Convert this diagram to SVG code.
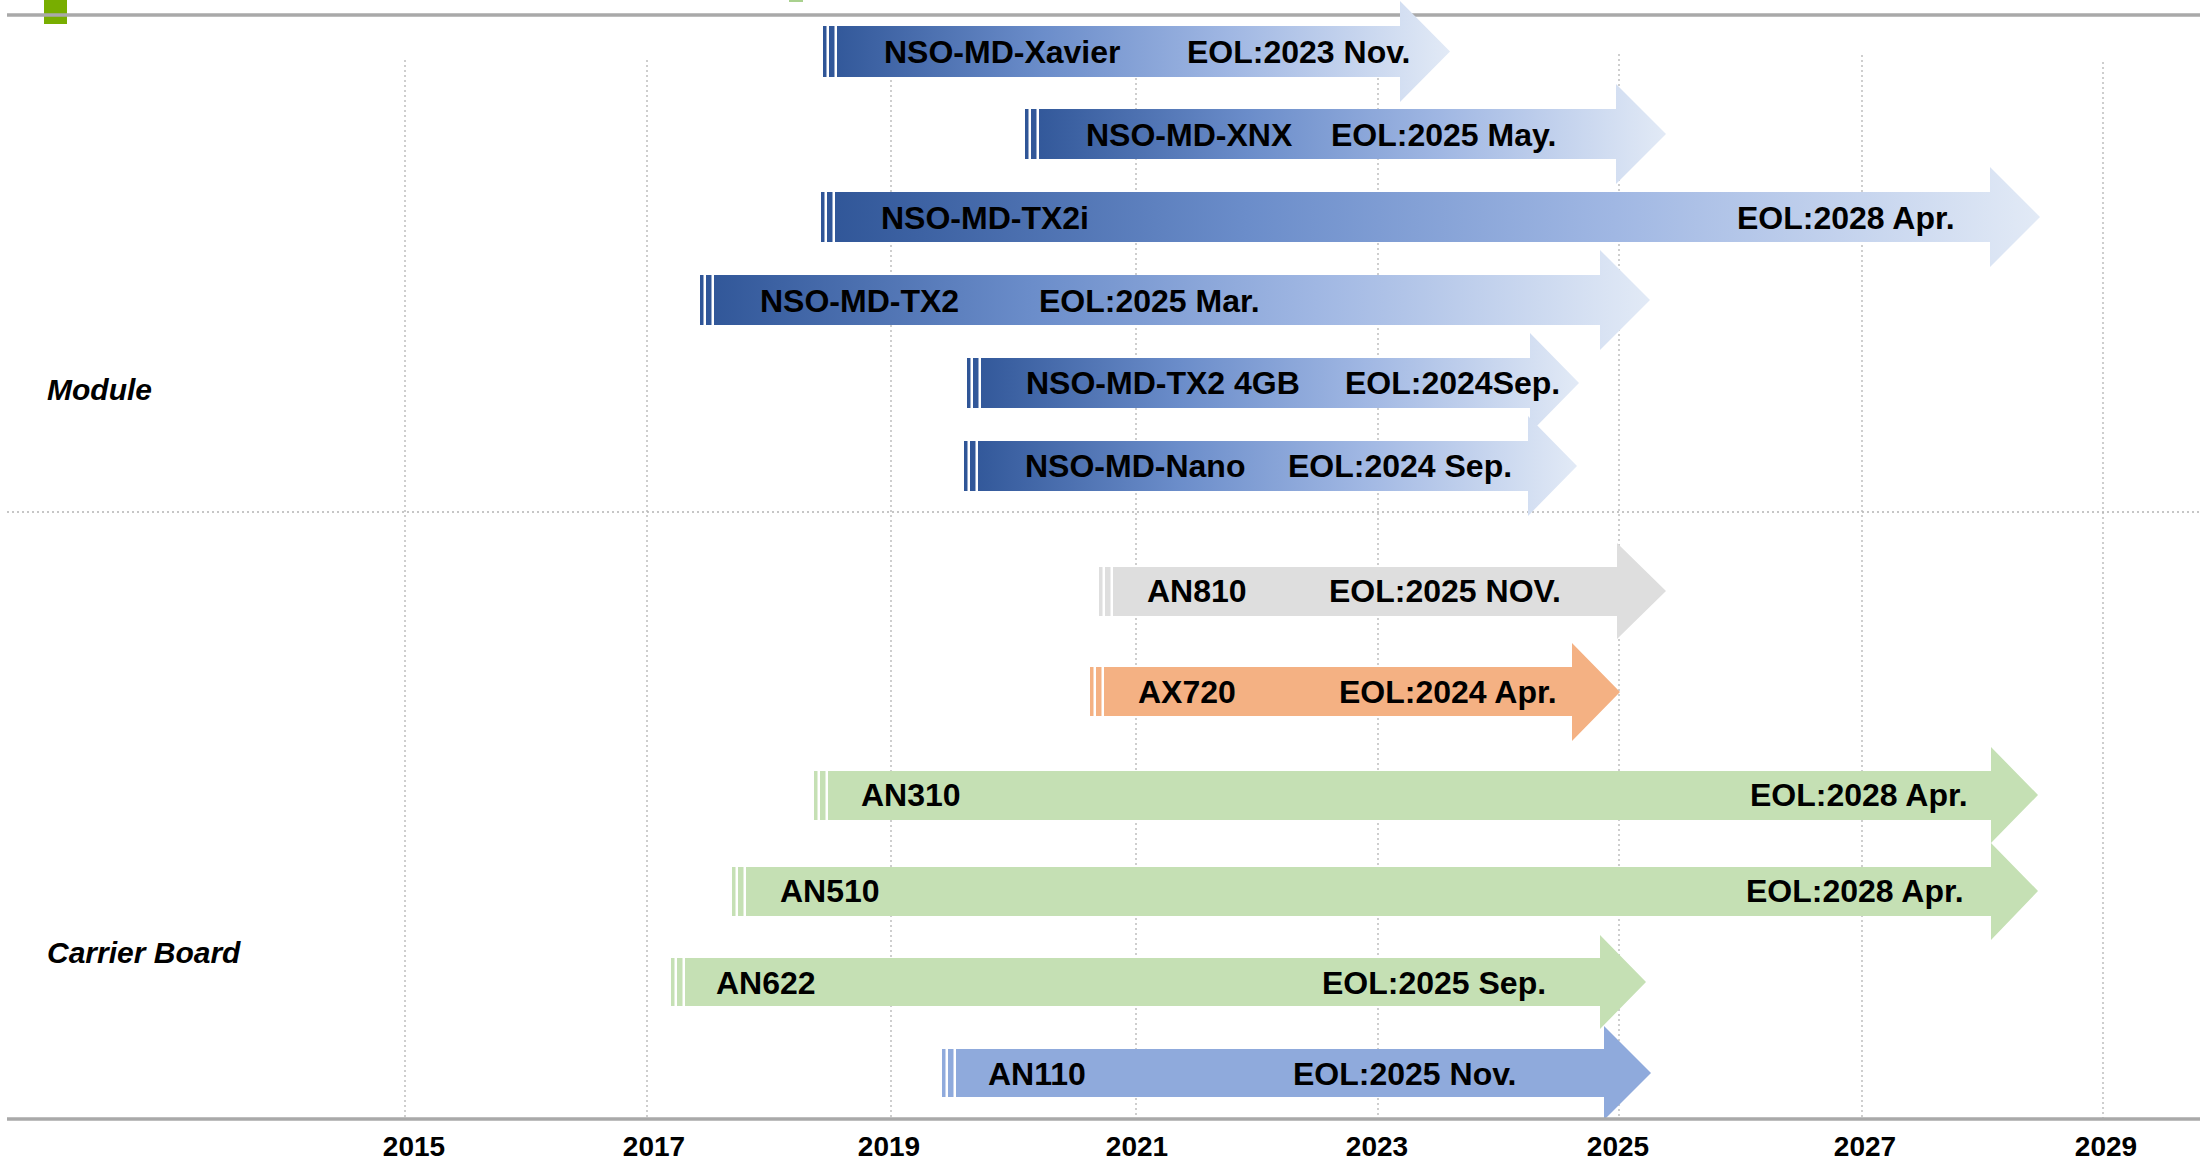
<svg xmlns="http://www.w3.org/2000/svg" width="2200" height="1162" viewBox="0 0 2200 1162">
<style>
.grid{stroke:#b4b4b4;stroke-width:1.3;stroke-dasharray:2 3;fill:none}
.axis{stroke:#a9a9a9;stroke-width:3.5;fill:none}
.lbl{font-family:"Liberation Sans",Arial,sans-serif;font-weight:bold;font-size:32px;fill:#000}
.yr{font-family:"Liberation Sans",Arial,sans-serif;font-weight:bold;font-size:28px;fill:#000;text-anchor:middle}
.sec{font-family:"Liberation Sans",Arial,sans-serif;font-weight:bold;font-style:italic;font-size:30px;fill:#000}
.blue{fill:url(#gb)}
.gray{fill:#dedede}
.orange{fill:#f4b183}
.green{fill:#c5e0b4}
.lblue{fill:#8faadc}
</style>
<defs>
<linearGradient id="gb" x1="0" y1="0" x2="1" y2="0">
<stop offset="0" stop-color="#2f5597"/>
<stop offset="0.35" stop-color="#6b8dca"/>
<stop offset="0.65" stop-color="#a0b7e3"/>
<stop offset="1" stop-color="#e2eaf6"/>
</linearGradient>
</defs>
<rect width="2200" height="1162" fill="#fff"/>
<rect x="44" y="0" width="23" height="24" fill="#78ae00"/>
<rect x="789" y="0" width="14" height="2" fill="#a9d18e"/>
<g id="connectors">
<line class="axis" x1="7" y1="15" x2="2200" y2="15"/>
<line class="grid" x1="405" y1="60" x2="405" y2="1119"/>
<line class="grid" x1="647" y1="60" x2="647" y2="1119"/>
<line class="grid" x1="891" y1="60" x2="891" y2="1119"/>
<line class="grid" x1="1136" y1="58" x2="1136" y2="1119"/>
<line class="grid" x1="1378" y1="58" x2="1378" y2="1119"/>
<line class="grid" x1="1619" y1="54" x2="1619" y2="1119"/>
<line class="grid" x1="1862" y1="55" x2="1862" y2="1119"/>
<line class="grid" x1="2103" y1="62" x2="2103" y2="1119"/>
<line class="grid" x1="7" y1="512" x2="2200" y2="512"/>
</g>
<g id="xavier"><path class="blue" d="M823 26h3.5v51h-3.5z M829 26h5.5v51h-5.5z M837 26H1400V1L1450 51.5L1400 102V77H837z"/>
<text class="lbl" x="884" y="63">NSO-MD-Xavier</text><text class="lbl" x="1187" y="63">EOL:2023 Nov.</text></g>
<g id="xnx"><path class="blue" d="M1025 109h3.5v50h-3.5z M1031 109h5.5v50h-5.5z M1039 109H1616V84L1666 134L1616 184V159H1039z"/>
<text class="lbl" x="1086" y="146">NSO-MD-XNX</text><text class="lbl" x="1331" y="146">EOL:2025 May.</text></g>
<g id="tx2i"><path class="blue" d="M821 192h3.5v50h-3.5z M827 192h5.5v50h-5.5z M835 192H1990V167L2040 217L1990 267V242H835z"/>
<text class="lbl" x="881" y="229">NSO-MD-TX2i</text><text class="lbl" x="1737" y="229">EOL:2028 Apr.</text></g>
<g id="tx2"><path class="blue" d="M700 275h3.5v50h-3.5z M706 275h5.5v50h-5.5z M714 275H1600V250L1650 300L1600 350V325H714z"/>
<text class="lbl" x="760" y="312">NSO-MD-TX2</text><text class="lbl" x="1039" y="312">EOL:2025 Mar.</text></g>
<g id="tx2-4gb"><path class="blue" d="M967 358h3.5v50h-3.5z M973 358h5.5v50h-5.5z M981 358H1530V333L1579 383L1530 433V408H981z"/>
<text class="lbl" x="1026" y="394">NSO-MD-TX2 4GB</text><text class="lbl" x="1345" y="394">EOL:2024Sep.</text></g>
<g id="nano"><path class="blue" d="M964 441h3.5v50h-3.5z M970 441h5.5v50h-5.5z M978 441H1528V416L1577 466L1528 516V491H978z"/>
<text class="lbl" x="1025" y="477">NSO-MD-Nano</text><text class="lbl" x="1288" y="477">EOL:2024 Sep.</text></g>
<g id="an810"><path class="gray" d="M1099 567h3.5v49h-3.5z M1105 567h5.5v49h-5.5z M1113 567H1617V543L1666 591L1617 639V616H1113z"/>
<text class="lbl" x="1147" y="602">AN810</text><text class="lbl" x="1329" y="602">EOL:2025 NOV.</text></g>
<g id="ax720"><path class="orange" d="M1090 667h3.5v49h-3.5z M1096 667h5.5v49h-5.5z M1104 667H1572V643L1620 692L1572 741V716H1104z"/>
<text class="lbl" x="1138" y="703">AX720</text><text class="lbl" x="1339" y="703">EOL:2024 Apr.</text></g>
<g id="an310"><path class="green" d="M814 771h3.5v49h-3.5z M820 771h5.5v49h-5.5z M828 771H1991V747L2038 795L1991 843V820H828z"/>
<text class="lbl" x="861" y="806">AN310</text><text class="lbl" x="1750" y="806">EOL:2028 Apr.</text></g>
<g id="an510"><path class="green" d="M732 867h3.5v49h-3.5z M738 867h5.5v49h-5.5z M746 867H1991V843L2038 891L1991 940V916H746z"/>
<text class="lbl" x="780" y="902">AN510</text><text class="lbl" x="1746" y="902">EOL:2028 Apr.</text></g>
<g id="an622"><path class="green" d="M671 958h3.5v48h-3.5z M677 958h5.5v48h-5.5z M685 958H1600V935L1646 982L1600 1029V1006H685z"/>
<text class="lbl" x="716" y="994">AN622</text><text class="lbl" x="1322" y="994">EOL:2025 Sep.</text></g>
<g id="an110"><path class="lblue" d="M942 1049h3.5v48h-3.5z M948 1049h5.5v48h-5.5z M956 1049H1604V1026L1651 1073L1604 1120V1097H956z"/>
<text class="lbl" x="988" y="1085">AN110</text><text class="lbl" x="1293" y="1085">EOL:2025 Nov.</text></g>
<line class="axis" x1="7" y1="1119" x2="2200" y2="1119"/>
<g id="sections">
<text class="sec" x="47" y="400">Module</text>
<text class="sec" x="47" y="963">Carrier Board</text>
</g>
<g id="years">
<text class="yr" x="414" y="1156">2015</text>
<text class="yr" x="654" y="1156">2017</text>
<text class="yr" x="889" y="1156">2019</text>
<text class="yr" x="1137" y="1156">2021</text>
<text class="yr" x="1377" y="1156">2023</text>
<text class="yr" x="1618" y="1156">2025</text>
<text class="yr" x="1865" y="1156">2027</text>
<text class="yr" x="2106" y="1156">2029</text>
</g>
</svg>
